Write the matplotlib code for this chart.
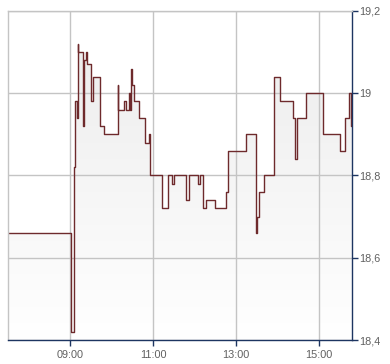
import matplotlib
matplotlib.use("Agg")
import matplotlib.pyplot as plt
import matplotlib.dates as mdates
import numpy as np
import pandas as pd
from matplotlib.colors import LinearSegmentedColormap

# ---- data ----
times = ["07:30:00", "09:01:00", "09:06:00", "09:07:40", "09:10:30", "09:11:10",
         "09:12:00", "09:18:40", "09:20:30", "09:22:40", "09:25:00", "09:30:40",
         "09:33:40", "09:43:40", "09:48:40", "10:09:20", "10:09:50", "10:18:20",
         "10:20:20", "10:25:00", "10:26:40", "10:28:00", "10:29:00", "10:32:00",
         "10:40:00", "10:48:00", "10:53:30", "10:55:00", "11:13:00", "11:22:00",
         "11:28:00", "11:31:00", "11:48:00", "11:52:30", "12:05:00", "12:08:00",
         "12:13:00", "12:17:00", "12:30:00", "12:45:00", "12:49:00", "13:15:00",
         "13:29:00", "13:31:00", "13:33:00", "13:40:00", "13:55:00", "14:04:00",
         "14:23:00", "14:26:00", "14:29:00", "14:42:00", "15:06:00", "15:31:00",
         "15:38:00", "15:44:00", "15:46:50"]
prices = [18.66, 18.42, 18.82, 18.98, 18.94, 19.12,
          19.10, 18.92, 19.08, 19.10, 19.07, 18.98,
          19.04, 18.92, 18.90, 19.02, 18.96, 18.98,
          18.96, 19.00, 18.96, 19.06, 19.02, 18.98,
          18.94, 18.88, 18.90, 18.80, 18.72, 18.80,
          18.78, 18.80, 18.74, 18.80, 18.78, 18.80,
          18.72, 18.74, 18.72, 18.76, 18.86, 18.90,
          18.66, 18.70, 18.76, 18.80, 19.04, 18.98,
          18.94, 18.84, 18.94, 19.00, 18.90, 18.86,
          18.94, 19.00, 18.92]
axis_start = "07:30:00"
axis_end = "15:48:00"
x_ticks = ["09:00", "11:00", "13:00", "15:00"]
y_ticks = [18.4, 18.6, 18.8, 19.0, 19.2]
y_tick_labels = ["18,4", "18,6", "18,8", "19", "19,2"]

day = "2024-01-02 "
t = pd.to_datetime([day + s for s in times])
x0 = pd.to_datetime(day + axis_start)
x1 = pd.to_datetime(day + axis_end)
tx = list(mdates.date2num(t.to_pydatetime())) + [mdates.date2num(x1.to_pydatetime())]
py = list(prices) + [prices[-1]]

W, H = 390, 364
fig = plt.figure(figsize=(W / 100, H / 100), dpi=100)
ax = fig.add_axes([8 / W, (H - 340) / H, (352 - 8) / W, (340 - 11) / H])
ax.set_facecolor("white")
ax.set_xlim(mdates.date2num(x0.to_pydatetime()), mdates.date2num(x1.to_pydatetime()))
ax.set_ylim(18.4, 19.2)

# gradient fill under the step line
poly = ax.fill_between(tx, py, 18.4, step="post", facecolor="none", edgecolor="none")
cmap = LinearSegmentedColormap.from_list("g", ["#ffffff", "#ebebeb"])
grad = np.linspace(0, 1, 256).reshape(-1, 1)
xl = ax.get_xlim()
im = ax.imshow(grad, extent=[xl[0], xl[1], 18.4, 19.2], origin="lower",
               aspect="auto", cmap=cmap, zorder=1, interpolation="bilinear")
im.set_clip_path(poly.get_paths()[0], transform=ax.transData)

ax.step(tx, py, where="post", color="#6e2a2c", lw=1.0, zorder=3)

# grid
ax.set_xticks([mdates.date2num(pd.to_datetime(day + s).to_pydatetime()) for s in x_ticks])
ax.set_xticklabels(x_ticks)
ax.set_yticks(y_ticks)
ax.set_yticklabels(y_tick_labels)
ax.grid(True, color="#c4c4c4", lw=1.0, zorder=2)
ax.set_axisbelow(False)
for gl in ax.get_xgridlines() + ax.get_ygridlines():
    gl.set_zorder(2)

ax.yaxis.tick_right()
for s in ["top", "left"]:
    ax.spines[s].set_color("#c4c4c4")
    ax.spines[s].set_linewidth(1.0)
for s in ["bottom", "right"]:
    ax.spines[s].set_color("#1d3561")
    ax.spines[s].set_linewidth(1.0)
for sp in ax.spines.values():
    sp.set_zorder(4)

ax.tick_params(axis="both", which="both", direction="out", length=4, width=1,
               color="#1d3561", labelcolor="#606060", labelsize=7.8, pad=1.5)
ax.tick_params(axis="x", pad=3)
for lab in ax.get_xticklabels() + ax.get_yticklabels():
    lab.set_family(["Liberation Sans", "DejaVu Sans"])

fig.savefig("out.png", dpi=100)
